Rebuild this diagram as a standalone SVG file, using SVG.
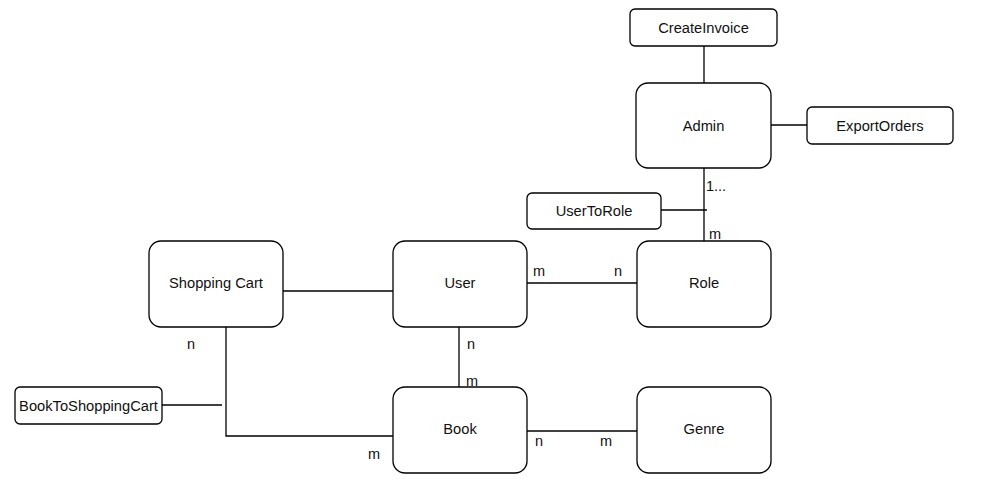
<svg xmlns="http://www.w3.org/2000/svg" width="996" height="491" viewBox="0 0 996 491">
<style>
.box{fill:#fff;stroke:#000;stroke-width:1.3}
.t{font-family:"Liberation Sans",Arial,sans-serif;font-size:14.7px;fill:#111;text-anchor:middle;dominant-baseline:central}
.l{font-family:"Liberation Sans",Arial,sans-serif;font-size:14.5px;fill:#111}
.c{stroke:#000;stroke-width:1.3;fill:none}
</style>
<rect width="996" height="491" fill="#fff"/>
<g id="connectors">
<line class="c" x1="704" y1="46" x2="704" y2="83"/>
<line class="c" x1="771" y1="125" x2="807" y2="125"/>
<line class="c" x1="704" y1="168" x2="704" y2="241"/>
<line class="c" x1="661" y1="210" x2="707" y2="210"/>
<line class="c" x1="283" y1="291" x2="393" y2="291"/>
<line class="c" x1="527" y1="283" x2="637" y2="283"/>
<line class="c" x1="459" y1="327" x2="459" y2="387"/>
<polyline class="c" points="226,327 226,436 393,436"/>
<line class="c" x1="162" y1="405" x2="222" y2="405"/>
<line class="c" x1="527" y1="431" x2="637" y2="431"/>
</g>
<g id="labels">
<text class="l" x="706" y="191">1...</text>
<text class="l" x="709" y="239">m</text>
<text class="l" x="533" y="276">m</text>
<text class="l" x="614" y="276">n</text>
<text class="l" x="187" y="349">n</text>
<text class="l" x="467" y="349">n</text>
<text class="l" x="466" y="386">m</text>
<text class="l" x="368" y="459">m</text>
<text class="l" x="535" y="446">n</text>
<text class="l" x="600" y="446">m</text>
</g>
<g id="CreateInvoice"><rect class="box" x="630" y="9" width="147" height="37" rx="5"/><text class="t" x="703.5" y="27.5">CreateInvoice</text></g>
<g id="Admin"><rect class="box" x="636" y="83" width="135" height="85" rx="12"/><text class="t" x="703.5" y="125.5">Admin</text></g>
<g id="ExportOrders"><rect class="box" x="807" y="107" width="146" height="37" rx="5"/><text class="t" x="880" y="125.5">ExportOrders</text></g>
<g id="UserToRole"><rect class="box" x="527" y="193" width="134" height="36" rx="5"/><text class="t" x="594" y="211">UserToRole</text></g>
<g id="ShoppingCart"><rect class="box" x="149" y="241" width="134" height="86" rx="12"/><text class="t" x="216" y="283">Shopping Cart</text></g>
<g id="User"><rect class="box" x="393" y="241" width="134" height="86" rx="12"/><text class="t" x="460" y="283">User</text></g>
<g id="Role"><rect class="box" x="637" y="241" width="134" height="86" rx="12"/><text class="t" x="704" y="283">Role</text></g>
<g id="BookToShoppingCart"><rect class="box" x="15" y="387" width="147" height="37" rx="5"/><text class="t" x="88.5" y="405.5">BookToShoppingCart</text></g>
<g id="Book"><rect class="box" x="393" y="387" width="134" height="86" rx="12"/><text class="t" x="460" y="429">Book</text></g>
<g id="Genre"><rect class="box" x="637" y="387" width="134" height="86" rx="12"/><text class="t" x="704" y="429">Genre</text></g>
</svg>
